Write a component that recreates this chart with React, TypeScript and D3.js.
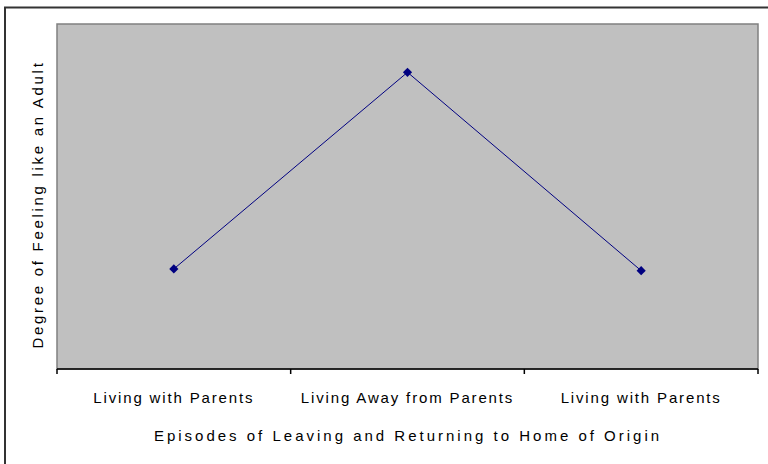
import React from "react";
import * as d3 from "d3";

const categories = ["Living with Parents", "Living Away from Parents", "Living with Parents "];
const tickLabels = ["Living with Parents", "Living Away from Parents", "Living with Parents"];
const values = [2.9, 8.6, 2.85];
const yDomain = [0, 10];
const xTitle = "Episodes of Leaving and Returning to Home of Origin";
const yTitle = "Degree of Feeling like an Adult";

export default function App() {
  const W = 768, H = 464;
  const left = 57, right = 758, top = 24, bottom = 369;
  const x = d3.scaleBand<string>().domain(categories).range([left, right]);
  const y = d3.scaleLinear().domain(yDomain).range([bottom, top]);
  const line = d3.line<number>()
    .x((_, i) => (x(categories[i]) as number) + x.bandwidth() / 2)
    .y((d) => y(d));
  const marker = d3.symbol().type(d3.symbolSquare).size(42)();
  const font = "Arial, 'Liberation Sans', sans-serif";
  const ticks = [left, ...categories.map((c) => (x(c) as number) + x.bandwidth())];
  return (
    <svg width={W} height={H} style={{ position: "absolute", left: 0, top: 0 }}>
      <rect x={0} y={0} width={W} height={H} fill="#fff" />
      <line x1={5} y1={7} x2={5} y2={H} stroke="#333" strokeWidth={2} />
      <line x1={4} y1={7.5} x2={W} y2={7.5} stroke="#333" strokeWidth={2} />
      <rect x={left} y={top} width={right - left} height={bottom - top} fill="#C0C0C0" stroke="#808080" strokeWidth={1.5} />
      <line x1={left} y1={bottom} x2={right} y2={bottom} stroke="#000" strokeWidth={1.5} />
      {ticks.map((t, i) => (
        <line key={i} x1={t} y1={bottom} x2={t} y2={bottom + 5} stroke="#000" strokeWidth={1.5} />
      ))}
      <path d={line(values) || ""} fill="none" stroke="#000080" strokeWidth={1} />
      {values.map((v, i) => (
        <path key={i} d={marker || ""} fill="#000080"
          transform={`translate(${(x(categories[i]) as number) + x.bandwidth() / 2},${y(v)}) rotate(45)`} />
      ))}
      {categories.map((c, i) => (
        <text key={i} x={(x(c) as number) + x.bandwidth() / 2} y={403} textAnchor="middle"
          fontFamily={font} fontSize={15} letterSpacing={1.85} fill="#000">{tickLabels[i]}</text>
      ))}
      <text x={408} y={441} textAnchor="middle" fontFamily={font} fontSize={15} letterSpacing={3.0} fill="#000">{xTitle}</text>
      <text transform={`translate(43,${(top + bottom) / 2 + 8}) rotate(-90)`} textAnchor="middle"
        fontFamily={font} fontSize={15} letterSpacing={2.7} fill="#000">{yTitle}</text>
    </svg>
  );
}
